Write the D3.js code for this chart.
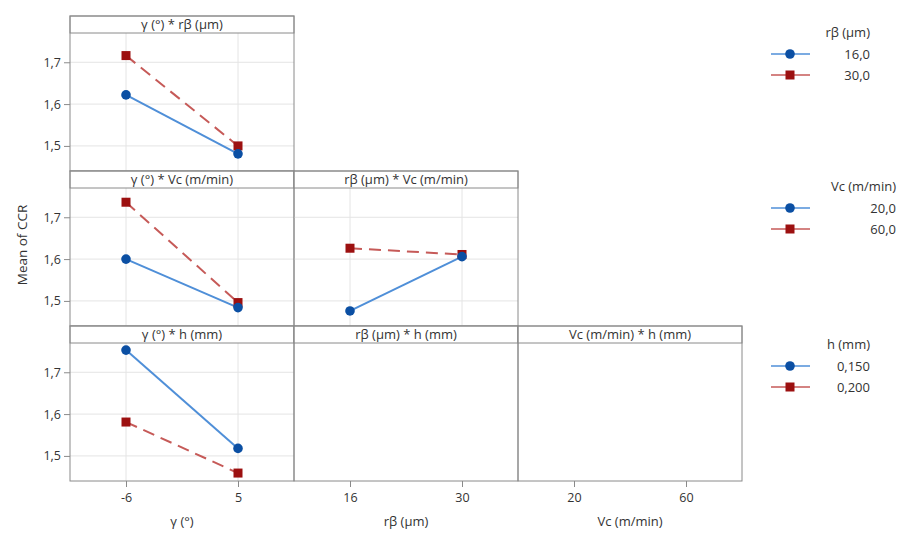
<!DOCTYPE html>
<html><head><meta charset="utf-8">
<script src="https://cdn.jsdelivr.net/npm/d3@7"></script>
<style>body{margin:0;background:#fff;} text{font-family:"Open Sans","Noto Sans",sans-serif;fill:#333;}</style>
</head><body>
<svg id="c" width="899" height="534"></svg>
<script>
// ---- data ----
const gammaLevels = ["-6", "5"];
const rbLevels = ["16", "30"];
const vcLevels = ["20", "60"];
const hLevels = ["0,150", "0,200"];

const yTickValues = [1.5, 1.6, 1.7];
const yTickLabels = ["1,5", "1,6", "1,7"];

// gamma * rβ
const gRb16 = [1.622, 1.481];
const gRb30 = [1.716, 1.500];
// gamma * Vc
const gVc20 = [1.600, 1.484];
const gVc60 = [1.736, 1.496];
// rβ * Vc
const rbVc20 = [1.476, 1.606];
const rbVc60 = [1.626, 1.611];
// gamma * h
const gH150 = [1.753, 1.518];
const gH200 = [1.581, 1.459];

const xLevelsByCol = [gammaLevels, rbLevels, vcLevels];
const xTitles = ["γ (°)", "rβ (µm)", "Vc (m/min)"];

const panels = [
  {row:0, col:0, title:"γ (°) * rβ (µm)", s1:gRb16, s2:gRb30},
  {row:1, col:0, title:"γ (°) * Vc (m/min)", s1:gVc20, s2:gVc60},
  {row:1, col:1, title:"rβ (µm) * Vc (m/min)", s1:rbVc20, s2:rbVc60},
  {row:2, col:0, title:"γ (°) * h (mm)", s1:gH150, s2:gH200},
  {row:2, col:1, title:"rβ (µm) * h (mm)", s1:null, s2:null},
  {row:2, col:2, title:"Vc (m/min) * h (mm)", s1:null, s2:null}
];

const legends = [
  {title:"rβ (µm)", labels:["16,0","30,0"], y:33, right:870},
  {title:"Vc (m/min)", labels:["20,0","60,0"], y:187, right:896},
  {title:"h (mm)", labels:hLevels, y:345, right:870}
];

// ---- layout ----
const svg = d3.select("#c");
const x0 = 70, colW = 224;
const rowTop0 = 16, rowH = 155, headH = 17;
const blueLine = "#4f8fd8", blueMark = "#0b4fa3";
const redLine = "#c65a58", redMark = "#9c1010";
const borderC = "#8a8a8a", gridC = "#e4e4e4";

function rowTop(r){ return rowTop0 + r*rowH; }

function yScale(r){
  return d3.scaleLinear().domain([1.44, 1.77]).range([rowTop(r)+rowH, rowTop(r)+headH]);
}
function xScale(c){
  return d3.scalePoint().domain(xLevelsByCol[c]).range([x0 + c*colW, x0 + (c+1)*colW]).padding(0.5);
}

panels.forEach(p => {
  const left = x0 + p.col*colW, right = left + colW;
  const top = rowTop(p.row), bottom = top + rowH;
  const ys = yScale(p.row), xs = xScale(p.col);
  const g = svg.append("g");
  if (p.s1) {
    g.selectAll(".gy").data(yTickValues).enter().append("line")
      .attr("x1", left).attr("x2", right).attr("y1", d=>ys(d)).attr("y2", d=>ys(d))
      .attr("stroke", gridC).attr("stroke-width", 1);
    g.selectAll(".gx").data(xLevelsByCol[p.col]).enter().append("line")
      .attr("x1", d=>xs(d)).attr("x2", d=>xs(d)).attr("y1", top+headH).attr("y2", bottom)
      .attr("stroke", gridC).attr("stroke-width", 1);
  }
  g.append("rect").attr("x", left).attr("y", top).attr("width", colW).attr("height", headH)
    .attr("fill", "#fff").attr("stroke", borderC).attr("stroke-width", 1);
  g.append("text").attr("x", (left+right)/2).attr("y", top+headH/2+4.5)
    .attr("text-anchor", "middle").style("font-size", "13px").text(p.title);
  g.append("rect").attr("x", left).attr("y", top).attr("width", colW).attr("height", rowH)
    .attr("fill", "none").attr("stroke", borderC).attr("stroke-width", 1);

  if (p.s1) {
    const lvls = xLevelsByCol[p.col];
    const line = d3.line().x(d=>xs(d.x)).y(d=>ys(d.y));
    const d1 = p.s1.map((v,i)=>({x:lvls[i], y:v}));
    const d2 = p.s2.map((v,i)=>({x:lvls[i], y:v}));
    g.append("path").attr("d", line(d2)).attr("fill","none").attr("stroke", redLine)
      .attr("stroke-width", 2).attr("stroke-dasharray", "12,7");
    g.append("path").attr("d", line(d1)).attr("fill","none").attr("stroke", blueLine)
      .attr("stroke-width", 2);
    g.selectAll(".sq").data(d2).enter().append("rect")
      .attr("x", d=>xs(d.x)-4.5).attr("y", d=>ys(d.y)-4.5).attr("width", 9).attr("height", 9)
      .attr("fill", redMark);
    g.selectAll(".ci").data(d1).enter().append("circle")
      .attr("cx", d=>xs(d.x)).attr("cy", d=>ys(d.y)).attr("r", 4.8)
      .attr("fill", blueMark);
  }
});

[0,1,2].forEach(r => {
  const ys = yScale(r);
  const ax = d3.axisLeft(ys).tickValues(yTickValues)
    .tickFormat((d,i)=>yTickLabels[i]).tickSize(6).tickPadding(3);
  const g = svg.append("g").attr("transform", `translate(${x0},0)`).call(ax);
  g.select(".domain").remove();
  g.selectAll(".tick line").attr("stroke", borderC);
  g.selectAll(".tick text").style("font-size", "12.5px").attr("fill", "#333");
});

[0,1,2].forEach(c => {
  const xs = xScale(c);
  const bottom = rowTop(2) + rowH;
  const ax = d3.axisBottom(xs).tickSize(6).tickPadding(6);
  const g = svg.append("g").attr("transform", `translate(0,${bottom})`).call(ax);
  g.select(".domain").remove();
  g.selectAll(".tick line").attr("stroke", borderC);
  g.selectAll(".tick text").style("font-size", "12.5px").attr("fill", "#333");
  svg.append("text").attr("x", x0 + c*colW + colW/2).attr("y", 526)
    .attr("text-anchor", "middle").style("font-size", "13px").text(xTitles[c]);
});

svg.append("text").attr("transform", "translate(27,245) rotate(-90)")
  .attr("text-anchor", "middle").style("font-size", "13.5px").text("Mean of CCR");

legends.forEach(L => {
  const g = svg.append("g");
  g.append("text").attr("x", L.right).attr("y", L.y+4).attr("text-anchor", "end")
    .style("font-size", "13px").text(L.title);
  L.labels.forEach((lab, i) => {
    const yy = L.y + 21 + i*21;
    const isBlue = i === 0;
    g.append("line").attr("x1", 771).attr("x2", 810).attr("y1", yy).attr("y2", yy)
      .attr("stroke", isBlue ? blueLine : redLine).attr("stroke-width", 1.5);
    if (isBlue) g.append("circle").attr("cx", 790).attr("cy", yy).attr("r", 4.8).attr("fill", blueMark);
    else g.append("rect").attr("x", 785.5).attr("y", yy-4.5).attr("width", 9).attr("height", 9).attr("fill", redMark);
    g.append("text").attr("x", L.right).attr("y", yy+4.5).attr("text-anchor", "end")
      .style("font-size", "13px").text(lab);
  });
});
</script>
</body></html>
